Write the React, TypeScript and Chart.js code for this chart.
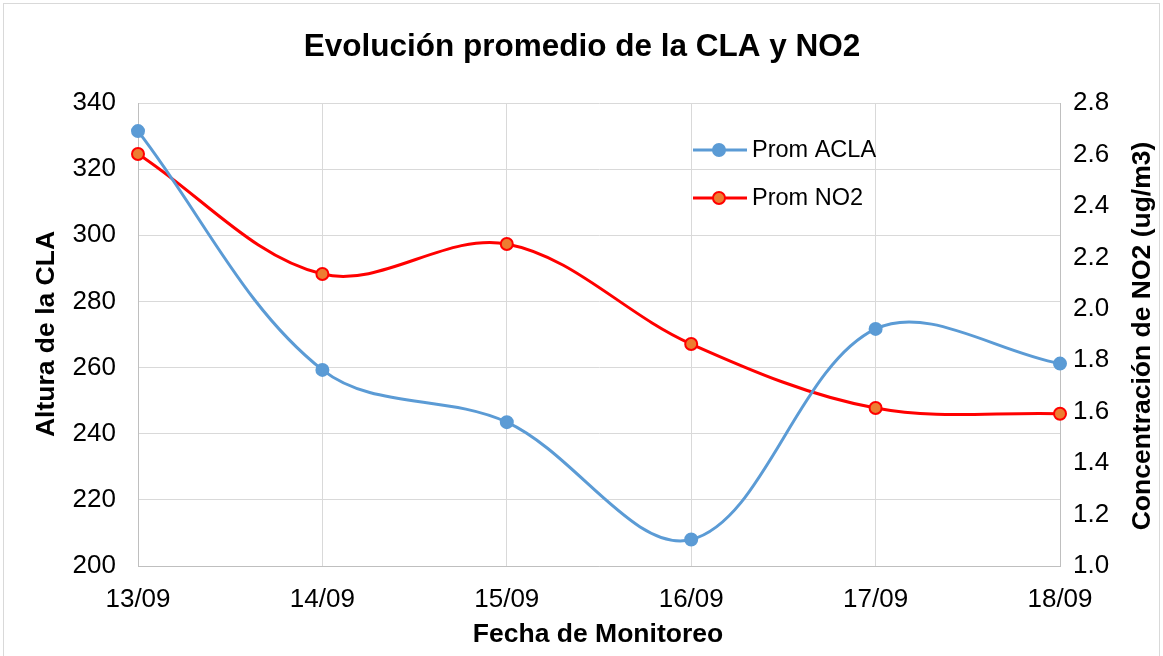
import React, { useEffect, useRef } from "react";
import { Chart, registerables } from "chart.js";

Chart.register(...registerables);

const categories = ["13/09", "14/09", "15/09", "16/09", "17/09", "18/09"];
const promACLA = [331.5, 259.3, 243.5, 208.0, 271.7, 261.2];
const promNO2 = [2.602, 2.135, 2.252, 1.863, 1.614, 1.592];
const leftTicks = { min: 200, max: 340, step: 20 };
const rightTicks = { min: 1.0, max: 2.8, step: 0.2 };

const FONT = "'Liberation Sans', Arial, sans-serif";

const decorPlugin = {
  id: "decor",
  afterDraw(chart: any) {
    const ctx = chart.ctx as CanvasRenderingContext2D;
    ctx.save();
    // outer border
    ctx.strokeStyle = "#d9d9d9";
    ctx.lineWidth = 1;
    ctx.strokeRect(3.5, 3.5, 1156, 660);
    // title
    ctx.fillStyle = "#000";
    ctx.textAlign = "center";
    ctx.textBaseline = "middle";
    ctx.font = `bold 31.5px ${FONT}`;
    ctx.fillText("Evolución promedio de la CLA y NO2", 582, 47);
    // x title
    ctx.font = `bold 26.5px ${FONT}`;
    ctx.fillText("Fecha de Monitoreo", 598, 635);
    // left title
    ctx.save();
    ctx.translate(47, 334);
    ctx.rotate(-Math.PI / 2);
    ctx.fillText("Altura de la CLA", 0, 0);
    ctx.restore();
    // right title
    ctx.save();
    ctx.translate(1143, 336);
    ctx.rotate(-Math.PI / 2);
    ctx.fillText("Concentración de NO2 (ug/m3)", 0, 0);
    ctx.restore();
    // legend
    const items = [
      { label: "Prom ACLA", line: "#5b9bd5", fill: "#5b9bd5", border: "#5b9bd5", y: 150 },
      { label: "Prom NO2", line: "#ff0000", fill: "#ed7d31", border: "#ff0000", y: 198 },
    ];
    const lx = 693;
    items.forEach((it) => {
      ctx.strokeStyle = it.line;
      ctx.lineWidth = 3;
      ctx.beginPath();
      ctx.moveTo(lx, it.y);
      ctx.lineTo(lx + 54, it.y);
      ctx.stroke();
      ctx.beginPath();
      ctx.arc(lx + 26, it.y, 6, 0, Math.PI * 2);
      ctx.fillStyle = it.fill;
      ctx.fill();
      ctx.lineWidth = 2;
      ctx.strokeStyle = it.border;
      ctx.stroke();
      ctx.fillStyle = "#000";
      ctx.textAlign = "left";
      ctx.font = `23.5px ${FONT}`;
      ctx.fillText(it.label, lx + 59, it.y + 1);
    });
    ctx.restore();
  },
};

export default function App() {
  const ref = useRef<HTMLCanvasElement | null>(null);
  useEffect(() => {
    if (!ref.current) return;
    const chart = new Chart(ref.current, {
      type: "line",
      data: {
        labels: categories,
        datasets: [
          {
            label: "Prom ACLA",
            data: promACLA,
            yAxisID: "y",
            borderColor: "#5b9bd5",
            backgroundColor: "#5b9bd5",
            pointBackgroundColor: "#5b9bd5",
            pointBorderColor: "#5b9bd5",
            pointRadius: 6,
            pointBorderWidth: 2,
            borderWidth: 3,
            tension: 0.35,
            fill: false,
          },
          {
            label: "Prom NO2",
            data: promNO2,
            yAxisID: "y1",
            borderColor: "#ff0000",
            backgroundColor: "#ed7d31",
            pointBackgroundColor: "#ed7d31",
            pointBorderColor: "#ff0000",
            pointRadius: 6,
            pointBorderWidth: 2,
            borderWidth: 3,
            tension: 0.35,
            fill: false,
          },
        ],
      },
      options: {
        animation: false,
        responsive: false,
        maintainAspectRatio: false,
        layout: { padding: { top: 103, left: 0, right: 0, bottom: 0 } },
        plugins: {
          legend: { display: false },
          title: { display: false },
          tooltip: { enabled: false },
        },
        scales: {
          x: {
            type: "category",
            offset: false,
            grid: { color: "#d9d9d9", drawTicks: false, lineWidth: 1 },
            border: { color: "#bfbfbf" },
            ticks: { color: "#000", font: { family: FONT, size: 26 }, padding: 18, maxRotation: 0, autoSkip: false },
            afterFit: (s: any) => {
              s.height = 90;
            },
          },
          y: {
            position: "left",
            min: leftTicks.min,
            max: leftTicks.max,
            grid: { color: "#d9d9d9", drawTicks: false },
            border: { color: "#bfbfbf" },
            ticks: { stepSize: leftTicks.step, color: "#000", font: { family: FONT, size: 26 }, padding: 22 },
            afterFit: (s: any) => {
              s.width = 138;
            },
          },
          y1: {
            position: "right",
            min: rightTicks.min,
            max: rightTicks.max,
            grid: { display: false, drawTicks: false },
            border: { color: "#bfbfbf" },
            ticks: {
              stepSize: rightTicks.step,
              color: "#000",
              font: { family: FONT, size: 26 },
              padding: 13,
              callback: (v: any) => Number(v).toFixed(1),
            },
            afterFit: (s: any) => {
              s.width = 103;
            },
          },
        },
      },
      plugins: [decorPlugin],
    });
    return () => chart.destroy();
  }, []);
  return (
    <div style={{ position: "fixed", left: 0, top: 0, width: 1163, height: 656, background: "#fff" }}>
      <canvas ref={ref} width={1163} height={656} style={{ display: "block" }} />
    </div>
  );
}
